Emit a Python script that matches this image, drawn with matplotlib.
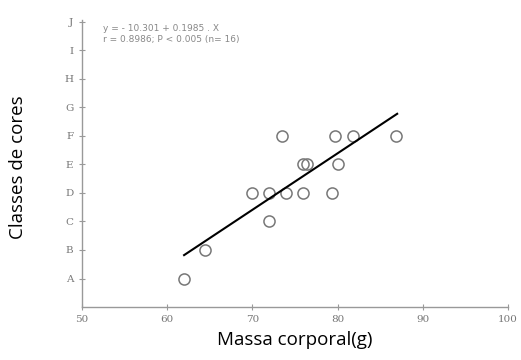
import matplotlib.pyplot as plt

# valores
massa = [62, 64.4, 72, 70, 72, 74, 76, 79.4, 73.5, 76, 76.4, 80, 79.7, 81.8, 86.9]
classe = [1, 2, 3, 4, 4, 4, 4, 4, 6, 5, 5, 5, 6, 6, 6]
reta_x = [62, 87]
reta_y = [1.82, 6.77]
classes = ["A", "B", "C", "D", "E", "F", "G", "H", "I", "J"]
x_ticks = [50, 60, 70, 80, 90, 100]

fig = plt.figure(figsize=(5.21, 3.6), dpi=100)
ax = fig.add_axes([0.157, 0.147, 0.818, 0.797])

ax.plot(massa, classe, "o", ms=8, mfc="none", mec="#777777", mew=1.1)
ax.plot(reta_x, reta_y, color="black", lw=1.5)

ax.set_xlim(50, 100)
ax.set_ylim(0, 10.05)
ax.set_xticks(x_ticks)
ax.set_yticks(range(1, len(classes) + 1))
ax.set_yticklabels(classes)

for s in ["top", "right"]:
    ax.spines[s].set_visible(False)
for s in ["left", "bottom"]:
    ax.spines[s].set_color("#999999")
    ax.spines[s].set_linewidth(1.0)
ax.tick_params(direction="inout", length=5, color="#999999", labelcolor="#777777",
               labelsize=7.5)
for lab in ax.get_yticklabels() + ax.get_xticklabels():
    lab.set_family("DejaVu Serif")

ax.text(0.05, 0.985, "y = - 10.301 + 0.1985 . X\nr = 0.8986; P < 0.005 (n= 16)",
        transform=ax.transAxes, ha="left", va="top", fontsize=6.5,
        color="#888888", linespacing=1.2)

ax.set_xlabel("Massa corporal(g)", fontsize=13.5, family="Open Sans", labelpad=5)
fig.text(0.035, 0.536, "Classes de cores", rotation=90, fontsize=13.5,
         family="Open Sans", ha="center", va="center")

fig.savefig("out.png", dpi=100)
